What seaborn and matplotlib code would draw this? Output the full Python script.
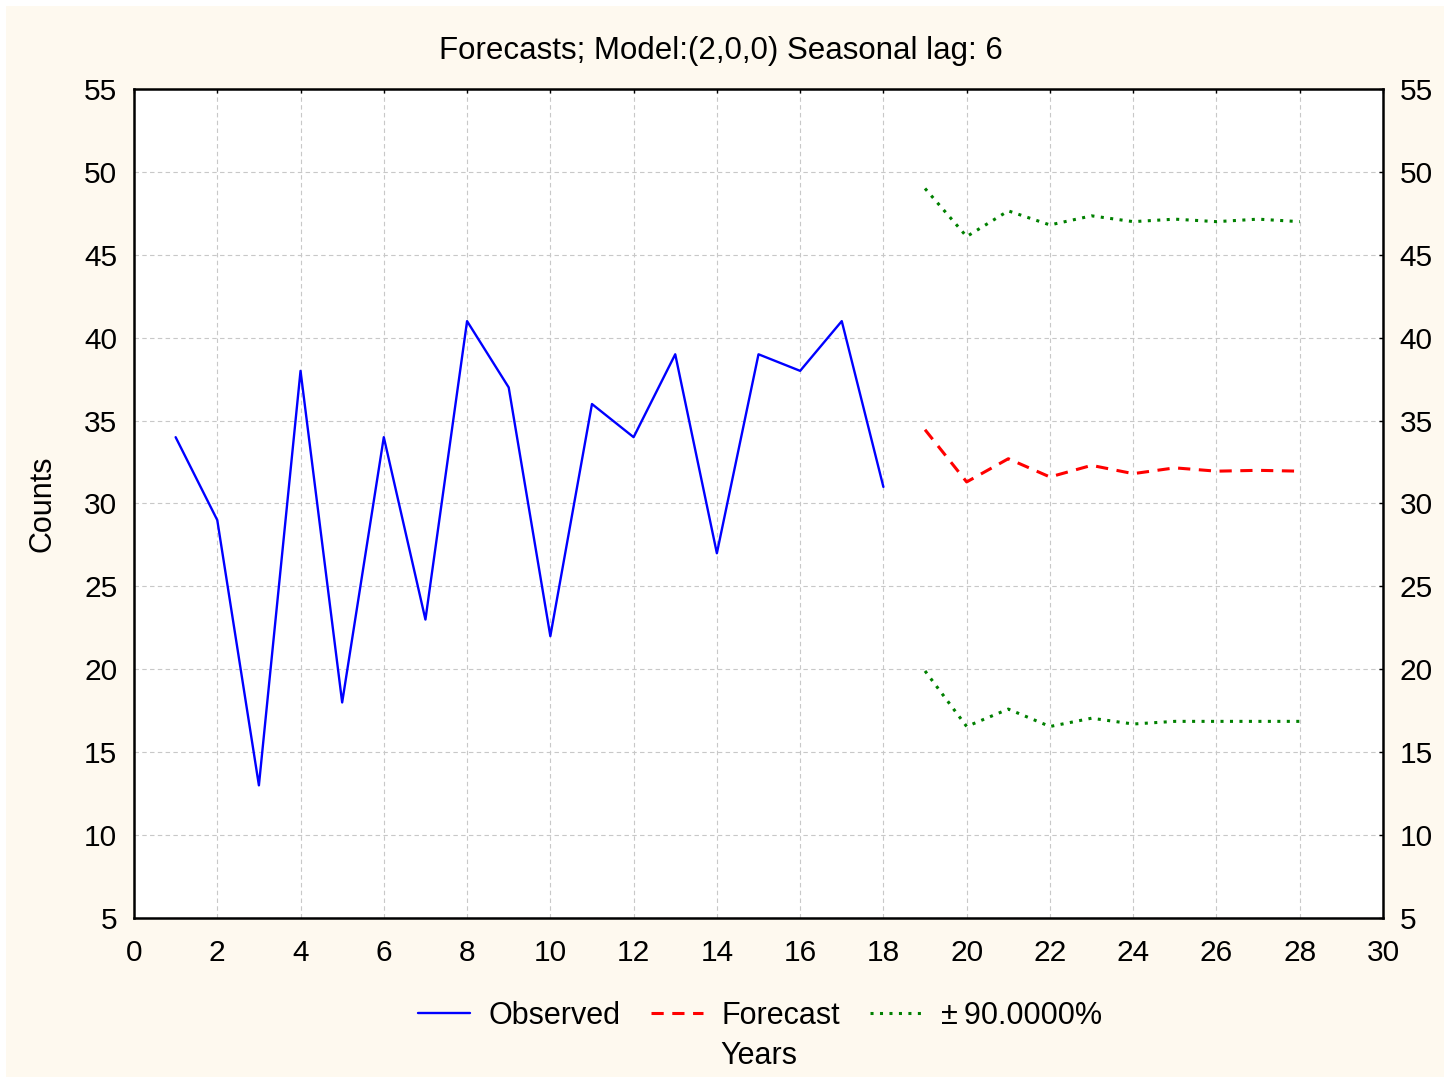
import matplotlib
matplotlib.use("Agg")
import matplotlib.pyplot as plt
import seaborn as sns
import pandas as pd
from matplotlib.patches import Rectangle

# ---- data ----
obs_years = list(range(1, 19))
observed = [34, 29, 13, 38, 18, 34, 23, 41, 37, 22, 36, 34, 39, 27, 39, 38, 41, 31]
fc_years = list(range(19, 29))
forecast = [34.45, 31.3, 32.7, 31.6, 32.3, 31.8, 32.15, 31.95, 32.0, 31.95]
upper = [49.0, 46.1, 47.65, 46.8, 47.35, 47.0, 47.15, 47.0, 47.15, 47.0]
lower = [19.9, 16.55, 17.6, 16.55, 17.05, 16.7, 16.86, 16.86, 16.86, 16.86]

x_ticks = list(range(0, 31, 2))
y_ticks = list(range(5, 56, 5))

title = "Forecasts; Model:(2,0,0) Seasonal lag: 6"
labels = ["Observed", "Forecast", "\u00b1\u200990.0000%"]

sns.set_style("white")
plt.rcParams["font.family"] = ["Liberation Sans", "DejaVu Sans"]
plt.rcParams["text.color"] = "black"
plt.rcParams["axes.labelcolor"] = "black"

fig = plt.figure(figsize=(14.48, 10.81), dpi=100)
fig.patch.set_facecolor("white")
fig.patches.append(Rectangle((6 / 1448, 4 / 1081), 1438 / 1448, 1071 / 1081,
                             transform=fig.transFigure, facecolor="#FEF9EF",
                             edgecolor="none", zorder=-10))
ax = fig.add_axes([134 / 1448, 1 - 918 / 1081, 1249 / 1448, 829 / 1081])
ax.set_facecolor("white")

df_obs = pd.DataFrame({"x": obs_years, "y": observed})
df_fc = pd.DataFrame({"x": fc_years, "f": forecast, "u": upper, "l": lower})

sns.lineplot(data=df_obs, x="x", y="y", ax=ax, color="#0000FF", linewidth=1.7, legend=False)
sns.lineplot(data=df_fc, x="x", y="f", ax=ax, color="#FF0000", linewidth=2.2,
             linestyle=(0, (4, 2.8)), legend=False)
sns.lineplot(data=df_fc, x="x", y="u", ax=ax, color="#008000", linewidth=2.2,
             linestyle=(0, (1, 2.1)), legend=False)
sns.lineplot(data=df_fc, x="x", y="l", ax=ax, color="#008000", linewidth=2.2,
             linestyle=(0, (1, 2.1)), legend=False)

ax.set_xlim(0, 30)
ax.set_ylim(5, 55)
ax.set_xticks(x_ticks)
ax.set_yticks(y_ticks)
ax.grid(True, color="#C8C8C8", linestyle=(0, (4, 3)), linewidth=0.8)
for s in ax.spines.values():
    s.set_color("black")
    s.set_linewidth(1.8)
ax.tick_params(axis="both", direction="in", length=3, width=1, color="black",
               labelsize=21.5, labelcolor="black", top=True, right=True,
               labelright=True)
ax.tick_params(axis="x", pad=15)
ax.tick_params(axis="y", pad=12)

ax.set_xlabel("Years", fontsize=22, color="black", va="top")
ax.xaxis.set_label_coords(0.5, (918 - 1041) / 829)
ax.set_ylabel("Counts", fontsize=22, color="black")
ax.yaxis.set_label_coords((57 - 134) / 1249, 0.5)

fig.text(0.498, 1 - 51 / 1081, title, ha="center", va="center", fontsize=22.5, color="black")

lines = ax.get_lines()
handles = [lines[0], lines[1], lines[2]]
leg = fig.legend(handles, labels, loc="center", bbox_to_anchor=(760 / 1448, 1 - 1016 / 1081),
                 ncol=3, frameon=False, fontsize=22, handlelength=1.7,
                 handletextpad=0.6, columnspacing=1.0)
for t in leg.get_texts():
    t.set_color("black")

fig.savefig("out.png", dpi=100, facecolor=fig.get_facecolor())
